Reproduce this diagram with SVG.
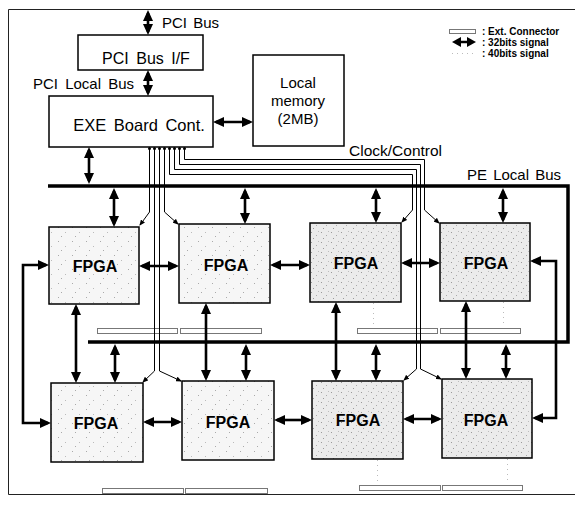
<svg xmlns="http://www.w3.org/2000/svg" width="575" height="505" viewBox="0 0 575 505">
<style>
.frame{fill:none;stroke:#222;stroke-width:1}
.box{fill:#fff;stroke:#000;stroke-width:1.5}
.fp{stroke:#000;stroke-width:1.5}
.arr{stroke:#000;stroke-width:2.6;fill:none;marker-start:url(#ah);marker-end:url(#ah)}
.ck{stroke:#000;stroke-width:1;fill:none;marker-end:url(#sa)}
.bus{stroke:#000;stroke-width:3.5;fill:none}
.conn{fill:#fff;stroke:#777;stroke-width:1}
.dot{stroke:#bbb;stroke-width:1;stroke-dasharray:1 4;fill:none}
.t{font-family:"Liberation Sans",Arial,sans-serif;fill:#000}
.lg{font-family:"Liberation Sans",Arial,sans-serif;font-size:10px;font-weight:bold;fill:#000}
.fl{font-family:"Liberation Sans",Arial,sans-serif;font-size:16px;font-weight:bold;fill:#000;text-anchor:middle}
</style>
<defs>
<marker id="ah" viewBox="0 0 11 10" refX="8" refY="5" markerWidth="11" markerHeight="10" markerUnits="userSpaceOnUse" orient="auto-start-reverse"><path d="M0,0 L11,5 L0,10 z" fill="#000"/></marker>
<marker id="sa" viewBox="0 0 6 5" refX="5" refY="2.5" markerWidth="6" markerHeight="5" markerUnits="userSpaceOnUse" orient="auto"><path d="M0,0 L6,2.5 L0,5 z" fill="#000"/></marker>
<pattern id="st1" width="14" height="14" patternUnits="userSpaceOnUse"><rect width="14" height="14" fill="#f6f6f6"/><rect x="2" y="3" width="1" height="1" fill="#aaa"/><rect x="9" y="8" width="1" height="1" fill="#bbb"/><rect x="5" y="12" width="1" height="1" fill="#aaa"/></pattern>
<pattern id="st2" width="10" height="10" patternUnits="userSpaceOnUse"><rect width="10" height="10" fill="#ebebeb"/><rect x="1" y="2" width="1" height="1" fill="#999"/><rect x="6" y="5" width="1" height="1" fill="#aaa"/><rect x="3" y="8" width="1" height="1" fill="#999"/><rect x="8" y="1" width="1" height="1" fill="#bbb"/></pattern>
</defs>
<path class="frame" d="M575,9.5 H8.5 V494.5 H575"/>

<g id="pci-if"><rect class="box" x="78" y="35" width="125" height="35"/><text class="t" x="146" y="64" font-size="16" text-anchor="middle" word-spacing="3">PCI Bus I/F</text></g>
<g id="exe"><rect class="box" x="49" y="96" width="164" height="51"/><text class="t" x="139" y="131" font-size="16.5" text-anchor="middle" word-spacing="3">EXE Board Cont.</text></g>
<g id="mem"><rect class="box" x="253" y="55" width="91" height="91"/><text class="t" font-size="15" text-anchor="middle"><tspan x="298" y="88">Local</tspan><tspan x="298" y="106">memory</tspan><tspan x="298" y="124">(2MB)</tspan></text></g>

<g id="f1"><rect class="fp" x="49" y="227" width="90" height="77" fill="url(#st1)"/><text class="fl" x="95" y="272">FPGA</text></g>
<g id="f2"><rect class="fp" x="179" y="224" width="91" height="79" fill="url(#st1)"/><text class="fl" x="226" y="271">FPGA</text></g>
<g id="f3"><rect class="fp" x="310" y="223" width="91" height="79" fill="url(#st2)"/><text class="fl" x="356" y="269">FPGA</text></g>
<g id="f4"><rect class="fp" x="440" y="223" width="90" height="78" fill="url(#st2)"/><text class="fl" x="486" y="269">FPGA</text></g>
<g id="f5"><rect class="fp" x="51" y="383" width="92" height="79" fill="url(#st1)"/><text class="fl" x="96" y="429">FPGA</text></g>
<g id="f6"><rect class="fp" x="182" y="381" width="92" height="79" fill="url(#st1)"/><text class="fl" x="228" y="428">FPGA</text></g>
<g id="f7"><rect class="fp" x="312" y="381" width="91" height="78" fill="url(#st2)"/><text class="fl" x="358" y="426">FPGA</text></g>
<g id="f8"><rect class="fp" x="442" y="379" width="90" height="79" fill="url(#st2)"/><text class="fl" x="486" y="426">FPGA</text></g>

<g id="ext-connectors">
<rect class="conn" x="97.5" y="328.5" width="80" height="5"/>
<rect class="conn" x="180.5" y="328.5" width="81" height="5"/>
<rect class="conn" x="357.5" y="328.5" width="80" height="5"/>
<rect class="conn" x="440.5" y="328.5" width="80" height="5"/>
<rect class="conn" x="102.5" y="488.5" width="81" height="5"/>
<rect class="conn" x="185.5" y="488.5" width="82" height="5"/>
<rect class="conn" x="359.5" y="485.5" width="81" height="5"/>
<rect class="conn" x="442.5" y="485.5" width="80" height="5"/>
</g>

<g id="connectors">
<path class="bus" d="M48,186 H568 V342 H88"/>
<line class="arr" x1="148" y1="13" x2="148" y2="32"/>
<line class="arr" x1="148" y1="73" x2="148" y2="93"/>
<line class="arr" x1="216" y1="122" x2="250" y2="122"/>
<line class="arr" x1="89" y1="150" x2="89" y2="181"/>
<line class="arr" x1="114" y1="191" x2="114" y2="224"/>
<line class="arr" x1="245" y1="191" x2="245" y2="221"/>
<line class="arr" x1="376" y1="191" x2="376" y2="220"/>
<line class="arr" x1="503" y1="191" x2="503" y2="220"/>
<line class="arr" x1="142" y1="266" x2="176" y2="266"/>
<line class="arr" x1="273" y1="265" x2="307" y2="265"/>
<line class="arr" x1="404" y1="263" x2="437" y2="263"/>
<path class="arr" d="M46,265 H23 V423 H48"/>
<path class="arr" d="M533,261 H556 V418 H535"/>
<line class="arr" x1="76" y1="307" x2="76" y2="380"/>
<line class="arr" x1="206" y1="306" x2="206" y2="378"/>
<line class="arr" x1="336" y1="305" x2="336" y2="378"/>
<line class="arr" x1="466" y1="304" x2="466" y2="376"/>
<line class="arr" x1="115" y1="347" x2="115" y2="380"/>
<line class="arr" x1="246" y1="347" x2="246" y2="378"/>
<line class="arr" x1="376" y1="347" x2="376" y2="378"/>
<line class="arr" x1="506" y1="347" x2="506" y2="376"/>
<line class="arr" x1="146" y1="422" x2="179" y2="422"/>
<line class="arr" x1="277" y1="420" x2="309" y2="420"/>
<line class="arr" x1="406" y1="419" x2="439" y2="419"/>
<path class="ck" d="M149.5,148 V212 L140,225"/>
<path class="ck" d="M164.5,148 V212 L178,224"/>
<path class="ck" d="M154.5,148 V371 L143,382"/>
<path class="ck" d="M159.5,148 V371 L181,381"/>
<path class="ck" d="M184.5,148 V159.5 H424.5 V210 L439,223"/>
<path class="ck" d="M179.5,148 V164.5 H420.5 V369 L441,379"/>
<path class="ck" d="M174.5,148 V169.5 H416.5 V369 L404,380"/>
<path class="ck" d="M169.5,148 V174.5 H412.5 V210 L402,222"/>
<g fill="#000"><circle cx="149.5" cy="148.5" r="1.5"/><circle cx="154.5" cy="148.5" r="1.5"/><circle cx="159.5" cy="148.5" r="1.5"/><circle cx="164.5" cy="148.5" r="1.5"/><circle cx="169.5" cy="148.5" r="1.5"/><circle cx="174.5" cy="148.5" r="1.5"/><circle cx="179.5" cy="148.5" r="1.5"/><circle cx="184.5" cy="148.5" r="1.5"/></g>
<line class="dot" x1="373.5" y1="303" x2="373.5" y2="327"/>
<line class="dot" x1="503.5" y1="302" x2="503.5" y2="327"/>
<line class="dot" x1="377.5" y1="460" x2="377.5" y2="484"/>
<line class="dot" x1="507.5" y1="459" x2="507.5" y2="484"/>
</g>

<g id="labels">
<text class="t" x="162" y="28" font-size="15" word-spacing="2">PCI Bus</text>
<text class="t" x="33" y="89" font-size="15" word-spacing="3">PCI Local Bus</text>
<text class="t" x="349" y="156" font-size="15.5">Clock/Control</text>
<text class="t" x="467" y="180" font-size="15" word-spacing="2">PE Local Bus</text>
</g>

<g id="legend">
<rect class="conn" x="449.5" y="29.5" width="26" height="4"/>
<text class="lg" x="482" y="35">: Ext. Connector</text>
<polygon points="452,42 461,37 461,47" fill="#000"/><polygon points="476,42 467,37 467,47" fill="#000"/><line x1="460" y1="42" x2="468" y2="42" stroke="#000" stroke-width="2.5"/>
<text class="lg" x="482" y="46">: 32bits signal</text>
<line class="dot" x1="452" y1="53.5" x2="476" y2="53.5"/>
<text class="lg" x="482" y="57">: 40bits signal</text>
</g>
</svg>
